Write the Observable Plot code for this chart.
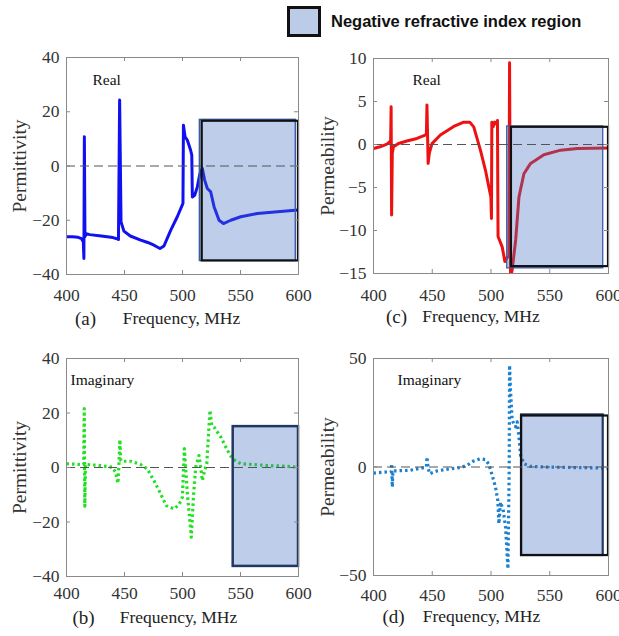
<!DOCTYPE html>
<html>
<head>
<meta charset="utf-8">
<script src="https://cdn.jsdelivr.net/npm/d3@7"></script>
<script src="https://cdn.jsdelivr.net/npm/@observablehq/plot@0.6"></script>
<style>
  body { margin: 0; background: #fff; }
  #root { position: relative; width: 619px; height: 636px; overflow: hidden; background: #fff; }
  .panel { position: absolute; }
  #legend { position: absolute; left: 287px; top: 6px; display: flex; align-items: center; }
  #legend .box { width: 28px; height: 25px; border: 3px solid #111; background: #bccbe7; }
  #legend .lbl { margin-left: 10px; font-family: "Liberation Sans", Arial, sans-serif; font-weight: bold; font-size: 16.5px; color: #111; }
</style>
</head>
<body>
<div id="root">
  <div id="legend"><div class="box"></div><div class="lbl">Negative refractive index region</div></div>
</div>
<script>
// ---------- data ----------
const freqTicks = [400, 450, 500, 550, 600];
const epsTicks = [-40, -20, 0, 20, 40];
const muRealTicks = [-15, -10, -5, 0, 5, 10];
const muImagTicks = [-50, 0, 50];

// (a) real permittivity
const epsRealFreq = [400,405,410,413,414.5,415,415.4,415.9,417,420,430,440,443.5,444.8,445.8,447,449.5,455,464,470,475.4,480.6,484,489.8,495.5,500.4,500.8,502.2,504.2,507,508,508.5,510.5,512.8,515,517.1,519.1,521.4,524.3,527.2,531.5,535.3,541.6,550.2,564.6,581.9,600];
const epsRealVal  = [-26.1,-26.1,-26.3,-26.8,-28,-34.1,10.8,-26,-25,-25.3,-25.8,-26.4,-26.8,-27.1,24.3,-20.6,-24,-25.8,-27.3,-28.2,-29.2,-30.4,-29.5,-23.7,-18.7,-13.8,15,10.8,9.5,5.8,4,-11.4,-10.8,-7.7,-2.8,-0.9,-5.2,-8.3,-9.5,-15,-20,-21.2,-20,-18.7,-17.5,-16.9,-16.2];

// (b) imaginary permittivity
const epsImagFreq = [400,412,414.8,415.3,415.8,416.3,417.8,429.4,439.4,442.3,444.3,445.3,446,446.8,448,455.3,463.9,469.6,475.4,481.2,486,492.7,497,499.9,501.6,504.2,507.6,509.4,511.4,514.2,515.7,517.1,519.1,520.9,523.7,525.2,527.2,533,538.7,543,550.2,561.7,573.2,587.6,600];
const epsImagVal  = [1.35,1.1,1.1,21.6,-14.2,1.1,1.1,0.7,0.1,-1.7,-5.8,2,10.2,2.5,2.3,2.3,1.1,-0.5,-4.8,-9.7,-14,-15.2,-13.6,-10.9,6.9,-9.7,-25.6,-10.9,0.1,4.4,0.1,-4.8,-1.1,1.35,21,15.5,14.8,11.2,6.3,3.2,1.35,1.1,0.7,0.5,0.1];

// (c) real permeability
const muRealFreq = [400,405.7,411.4,413.7,414.6,415,415.4,416,417,421.3,428.4,437,444,445,445.5,446.5,447.5,449.8,456.9,468.3,476.8,481.9,485.3,491,495.3,498.7,499.9,500.4,500.7,501.8,503,504.5,505.5,506,509.5,511.8,513.8,515.2,515.8,516.6,518,521,523.8,528,533.7,545,559.3,573.6,600];
const muRealVal  = [-0.47,-0.27,0.04,0.3,0.5,4.4,-8.2,-1,-0.27,0.12,0.4,0.7,1.1,1.2,4.6,-2.2,-1,0.1,1.1,2.1,2.6,2.6,2.05,-0.66,-3,-5.3,-6.1,-8.6,2.6,2.05,2.6,2.4,2.8,-10.7,-11.9,-13.6,-13.1,-13,9.5,-15.5,-14.6,-11.1,-6.1,-3.4,-2.2,-1.2,-0.66,-0.47,-0.4];

// (d) imaginary permeability
const muImagFreq = [400,411.4,415,415.5,416,416.5,418.5,431.3,442.7,445,445.5,446.5,447.8,454,465.4,474,479.7,485.3,491,495.3,498.2,501,503.8,505.8,506.7,508.1,510.4,512.4,514.4,515.5,515.8,516.6,518,520.9,522.3,523.8,525.2,528,533.7,545,573.5,600];
const muImagVal  = [-2.8,-2.3,-2.3,1.5,-9.2,-2,-1.8,-1.5,-0.3,0,4.6,-0.5,-3.1,-1.8,-0.8,-0.3,0.8,2.8,3.8,3.4,1.2,-3.8,-9.2,-15.4,-26.2,-16.2,-20,-27.7,-46.9,0,46.9,35.4,21.5,18.5,20.8,13.8,5.4,1.5,0.3,0,-0.3,-0.5];

// negative-index regions: [x1, x2, y1, y2] filled box and black outline box
const regionA = {fill: [515, 597.7, -35, 17], outline: [517, 600, -35, 16.5]};
const regionB = {fill: [543.7, 600, -36.3, 15], outline: null};
const regionC = {fill: [513.8, 595.5, -14.4, 2.1], outline: [517.4, 600, -14.2, 2]};
const regionD = {fill: [526, 595.5, -40.8, 24], outline: [526, 600, -40.8, 23.5]};

// ---------- drawing ----------
const frameColor = "#8a8a8a";
const serif = "'Liberation Serif', 'Times New Roman', serif";

function panel(cfg) {
  const data = cfg.freq.map((f, i) => ({f, v: cfg.val[i]}));
  const plotW = cfg.width - cfg.ml - cfg.mr;
  const plotH = cfg.height - cfg.mt - cfg.mb;
  const marks = [
    Plot.line(data, {x: "f", y: "v", stroke: cfg.color, strokeWidth: cfg.sw, strokeDasharray: cfg.dash, strokeLinecap: "butt", strokeLinejoin: "round", clip: true}),
    Plot.rect([cfg.region.fill], {x1: d => d[0], x2: d => d[1], y1: d => d[2], y2: d => d[3], fill: "#4472c4", fillOpacity: 0.35, stroke: cfg.regionStroke, strokeWidth: cfg.regionSW})
  ];
  if (cfg.region.outline) {
    marks.push(Plot.rect([cfg.region.outline], {x1: d => d[0], x2: d => d[1], y1: d => d[2], y2: d => d[3], fill: "none", stroke: "#111", strokeWidth: 2.2}));
  }
  marks.push(
    Plot.ruleY([0], {stroke: "#555", strokeWidth: 1.2, strokeDasharray: "9,5"}),
    Plot.frame({stroke: frameColor, strokeWidth: 1}),
    // inward ticks on all four sides
    Plot.tickX(freqTicks, {x: d => d, stroke: frameColor, insetTop: plotH - 4}),
    Plot.tickX(freqTicks, {x: d => d, stroke: frameColor, insetBottom: plotH - 4}),
    Plot.tickY(cfg.yTicks, {y: d => d, stroke: frameColor, insetRight: plotW - 4}),
    Plot.tickY(cfg.yTicks, {y: d => d, stroke: frameColor, insetLeft: plotW - 4}),
    Plot.axisX({ticks: freqTicks, tickSize: 0, tickPadding: cfg.xPad, label: null, fill: "#333", fontSize: 17.5}),
    Plot.axisY({ticks: cfg.yTicks, tickSize: 0, tickPadding: 7, label: null, fill: "#333", fontSize: 17.5}),
    Plot.text([cfg.ylabel], {text: d => d, frameAnchor: "left", rotate: -90, dx: -cfg.yLabOff, textAnchor: "middle", lineAnchor: "middle", fontSize: 19.5, fill: "#333"}),
    Plot.text([cfg.tag], {text: d => d, frameAnchor: "top-left", dx: cfg.tagDx, dy: cfg.tagDy, textAnchor: "start", lineAnchor: "middle", fontSize: 15.5, fill: "#111"}),
    Plot.text(["Frequency, MHz"], {text: d => d, frameAnchor: "bottom", dx: cfg.xlabDx, dy: cfg.xlabDy, textAnchor: "middle", lineAnchor: "middle", fontSize: 17.5, fill: "#222"}),
    Plot.text([cfg.letter], {text: d => d, frameAnchor: "bottom-left", dx: cfg.letterDx, dy: cfg.xlabDy, textAnchor: "middle", lineAnchor: "middle", fontSize: 19, fill: "#222"})
  );
  const chart = Plot.plot({
    width: cfg.width, height: cfg.height,
    marginLeft: cfg.ml, marginRight: cfg.mr, marginTop: cfg.mt, marginBottom: cfg.mb,
    x: {domain: [400, 600], axis: null},
    y: {domain: cfg.yDomain, axis: null},
    style: {fontFamily: serif, fontSize: "17px", background: "transparent", overflow: "visible"},
    marks
  });
  const wrap = document.createElement("div");
  wrap.className = "panel";
  wrap.style.left = cfg.left + "px";
  wrap.style.top = cfg.top + "px";
  wrap.appendChild(chart);
  document.getElementById("root").appendChild(wrap);
}

panel({left: 0, top: 40, width: 310, height: 300, ml: 66, mr: 12, mt: 17, mb: 66,
  freq: epsRealFreq, val: epsRealVal, color: "#1010f0", sw: 3, dash: null,
  yDomain: [-40, 40], yTicks: epsTicks, ylabel: "Permittivity", yLabOff: 46.5,
  tag: "Real", tagDx: 26, tagDy: 23, letter: "(a)", letterDx: 19, xlabDx: -1, xlabDy: 44, xPad: 14,
  region: regionA, regionStroke: "#3a5fa8", regionSW: 1.5});

panel({left: 310, top: 40, width: 309, height: 300, ml: 63, mr: 11, mt: 18, mb: 67,
  freq: muRealFreq, val: muRealVal, color: "#ee1111", sw: 3, dash: null,
  yDomain: [-15, 10], yTicks: muRealTicks, ylabel: "Permeability", yLabOff: 45.5,
  tag: "Real", tagDx: 39, tagDy: 22, letter: "(c)", letterDx: 23, xlabDx: -10, xlabDy: 43, xPad: 15,
  region: regionC, regionStroke: "#3a5fa8", regionSW: 1.3});

panel({left: 0, top: 340, width: 310, height: 296, ml: 66, mr: 12, mt: 18, mb: 60,
  freq: epsImagFreq, val: epsImagVal, color: "#22e022", sw: 3.2, dash: "2.5,3",
  yDomain: [-40, 40], yTicks: epsTicks, ylabel: "Permittivity", yLabOff: 46.5,
  tag: "Imaginary", tagDx: 4, tagDy: 22, letter: "(b)", letterDx: 17, xlabDx: -4, xlabDy: 41, xPad: 10,
  region: regionB, regionStroke: "#1f3864", regionSW: 2.5});

panel({left: 310, top: 340, width: 309, height: 296, ml: 63, mr: 11, mt: 18, mb: 61,
  freq: muImagFreq, val: muImagVal, color: "#1a80d0", sw: 3.2, dash: "2.5,3",
  yDomain: [-50, 50], yTicks: muImagTicks, ylabel: "Permeability", yLabOff: 45.5,
  tag: "Imaginary", tagDx: 24, tagDy: 22, letter: "(d)", letterDx: 20, xlabDx: -9.5, xlabDy: 41, xPad: 13,
  region: regionD, regionStroke: "#1f3864", regionSW: 2.2});
</script>
</body>
</html>
